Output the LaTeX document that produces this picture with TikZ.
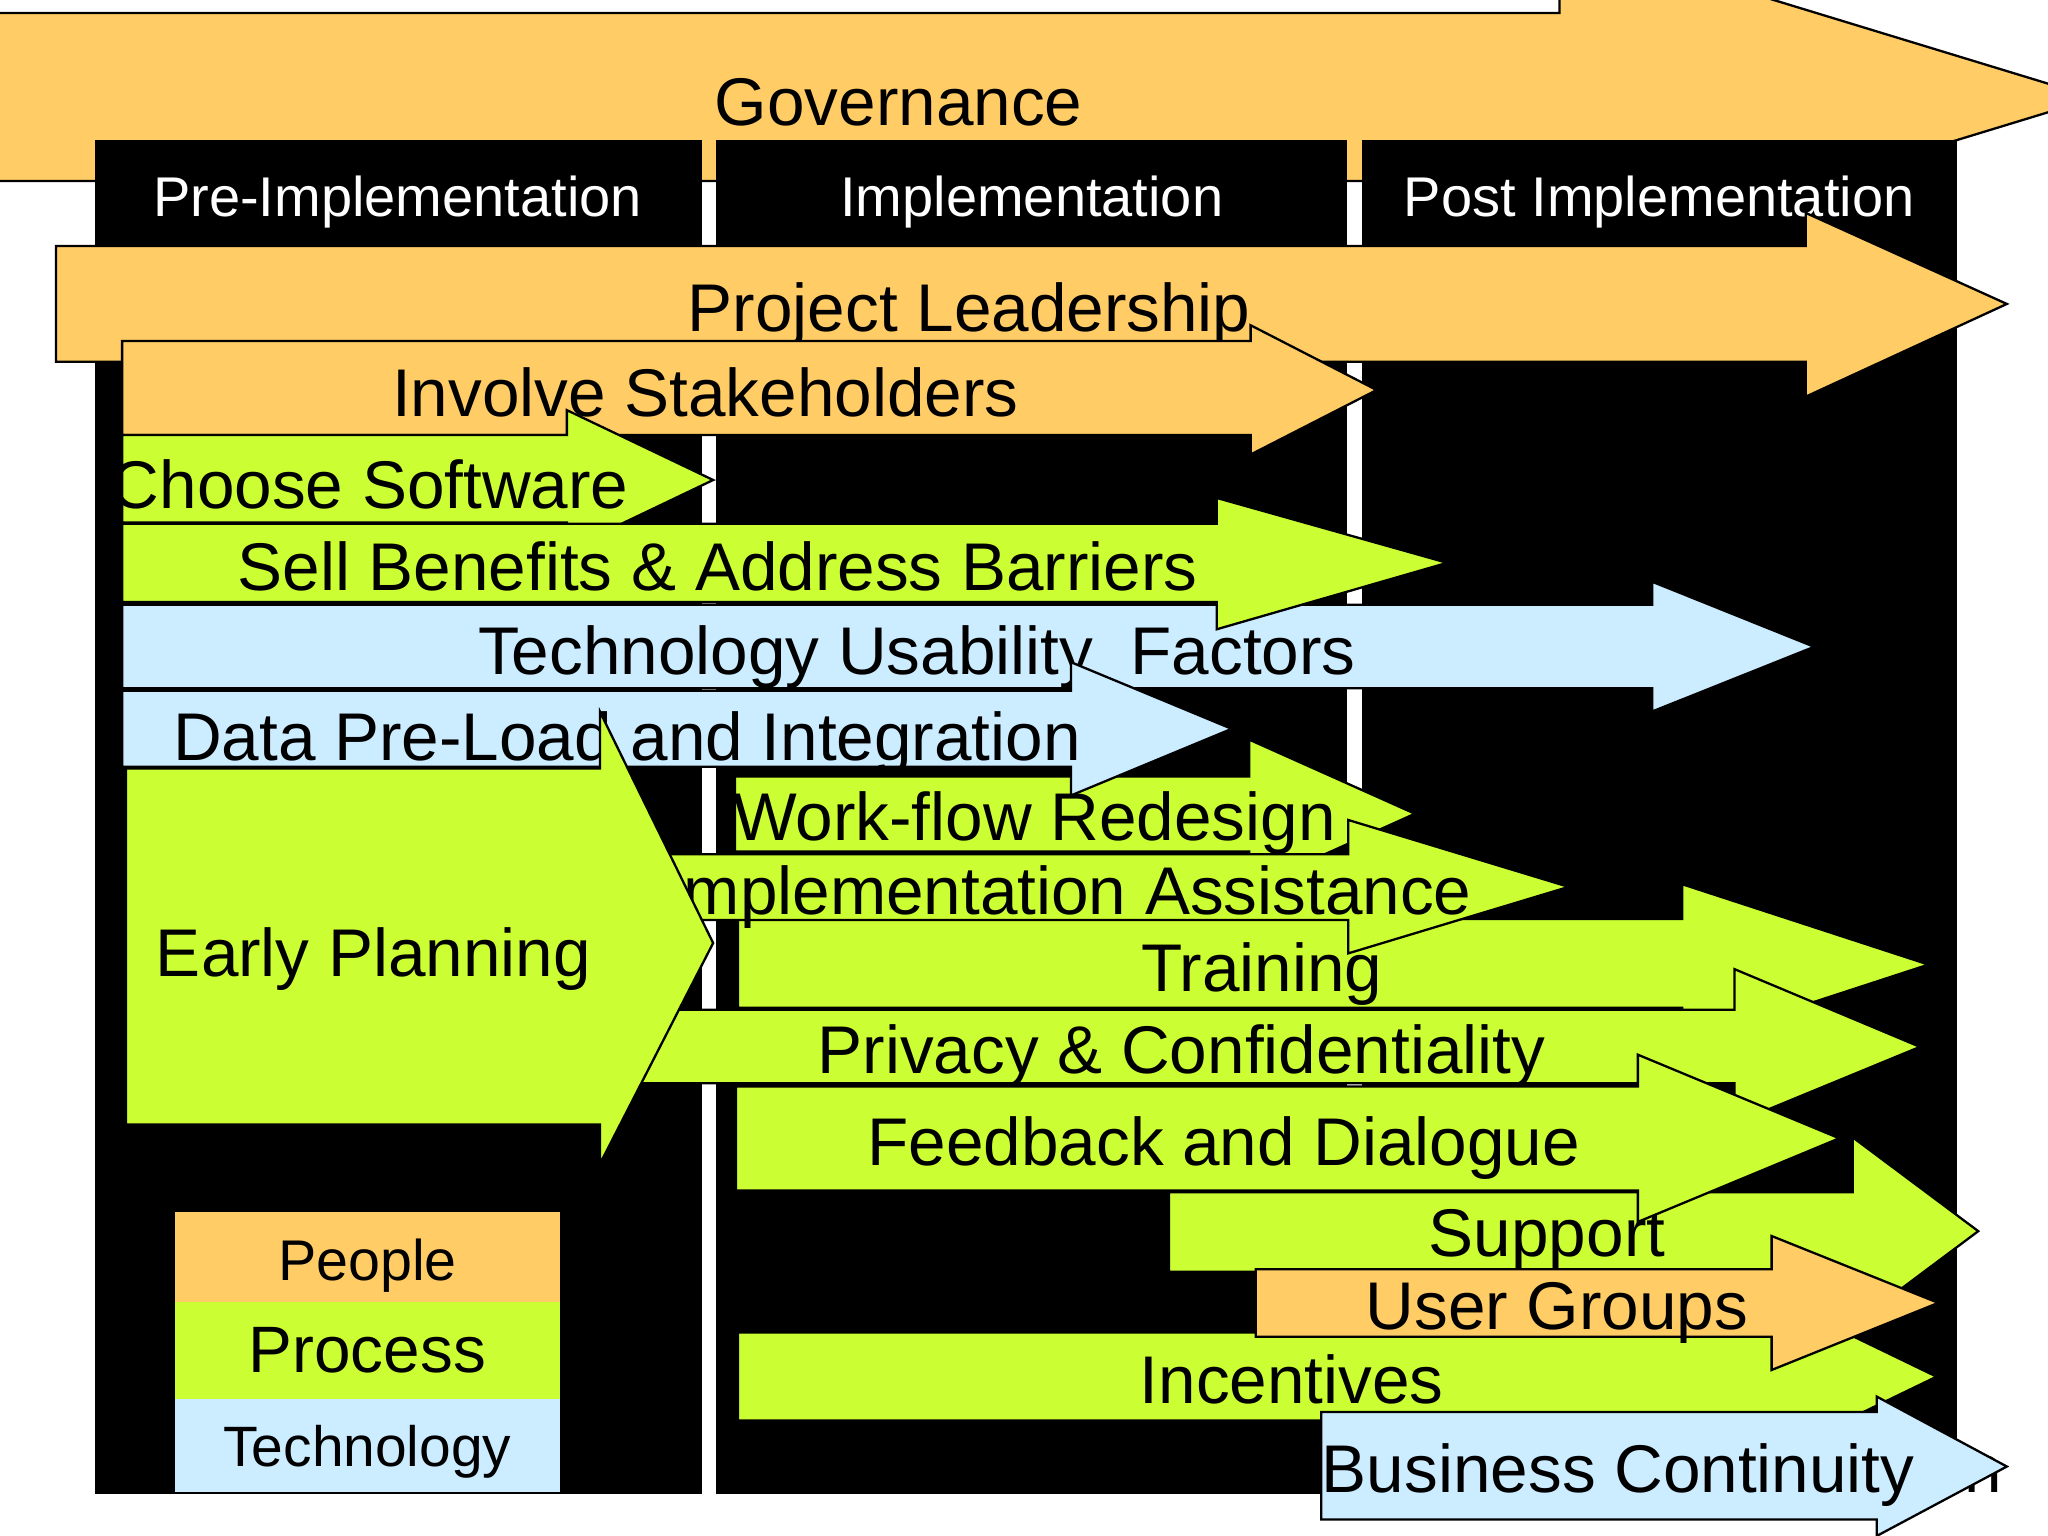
\documentclass[tikz,border=0pt]{standalone}
\usepackage{fontspec}
\setmainfont{Liberation Sans}
\definecolor{ppl}{RGB}{255,204,102}
\definecolor{prc}{RGB}{204,255,51}
\definecolor{tec}{RGB}{204,236,255}
\tikzset{
  arr/.style={draw=black, line width=0.5pt, line join=miter},
  lbl/.style={anchor=base, inner sep=0pt, font=\fontsize{14.7pt}{17pt}\selectfont},
  hdr/.style={anchor=base, inner sep=0pt, text=white, font=\fontsize{12.2pt}{14pt}\selectfont},
  colbox/.style={fill=black},
}
% style, left, top, bottom, headx, headtop, headbot, tipx, tipy
\newcommand{\harrow}[9]{\path[arr,#1] (#2,#3) -- (#5,#3) -- (#5,#6) -- (#8,#9) -- (#5,#7) -- (#5,#4) -- (#2,#4) -- cycle;}

\begin{document}
\begin{tikzpicture}[x=0.1mm,y=-0.1mm]
\useasboundingbox (0,0) rectangle (1568,1176);
\clip (0,0) rectangle (1568,1176);
\fill[white] (0,0) rectangle (1568,1176);

% Governance
\harrow{fill=ppl}{-20}{10}{138.6}{1194}{-50}{200}{1604}{75}
\node[lbl] (gov) at (688,95.7) {Governance};

% phase columns
\fill[colbox] (72.7,107.2) rectangle (537.5,1144);
\fill[colbox] (548.5,107.2) rectangle (1031.5,1144);
\fill[colbox] (1043,107.2) rectangle (1498.5,1144);
\node[hdr] (pre) at (304.3,165.9) {Pre-Implementation};
\node[hdr] (impl) at (790,165.9) {Implementation};
\node[hdr] (post) at (1270.3,165.9) {Post Implementation};

% Project Leadership
\harrow{fill=ppl}{42.9}{188.3}{277}{1382.5}{163}{303.7}{1536.5}{232.7}
\node[lbl] (pl) at (742,253.9) {Project Leadership};

% Involve Stakeholders
\harrow{fill=ppl}{93.5}{261}{333}{957.5}{249}{348}{1054}{298.6}
\node[lbl] (inv) at (540,319) {Involve Stakeholders};

% Choose Software
\harrow{fill=prc}{93.5}{333}{400}{434}{314}{421}{546}{367.5}
\begin{scope}
  \clip (93.5,300) rectangle (600,420);
  \node[lbl] (choose) at (283,389) {Choose Software};
\end{scope}

% Technology Usability Factors
\harrow{fill=tec}{93.5}{463}{527}{1265}{445.4}{544.7}{1389}{495.2}
\node[lbl] (tuf) at (702,516.5) {Technology Usability\ \ Factors};

% Sell Benefits
\harrow{fill=prc}{93.5}{401}{461}{931.5}{381.2}{481.8}{1108}{430.9}
\node[lbl] (sell) at (549.5,452.3) {Sell Benefits \& Address Barriers};

% Work-flow Redesign
\harrow{fill=prc}{562.7}{594.4}{652}{956.5}{566.3}{680}{1083.3}{623}
\begin{scope}
  \clip (562.7,560) rectangle (1100,690);
  \node[lbl] (wf) at (792,643.7) {Work-flow Redesign};
\end{scope}

% Data Pre-Load and Integration
\harrow{fill=tec}{93.5}{528.8}{587}{820}{507}{609}{943}{558}
\node[lbl] (data) at (480,582) {Data Pre-Load and Integration};

% Training
\harrow{fill=prc}{565}{703.5}{771.5}{1288}{677}{800}{1476.5}{738.5}
\node[lbl] (train) at (966,759) {Training};

% Implementation Assistance
\harrow{fill=prc}{480}{654}{704.3}{1032.3}{627.8}{729.9}{1201}{679}
\node[lbl] (ia) at (818,700) {Implementation Assistance};

% Privacy & Confidentiality
\harrow{fill=prc}{490}{773}{829.4}{1328}{742}{860}{1470}{801.5}
\node[lbl] (priv) at (904.5,822) {Privacy \& Confidentiality};

% Early Planning
\harrow{fill=prc}{96.5}{588.4}{861}{459.4}{545}{891}{546}{722}
\node[lbl] (early) at (286,747.5) {Early Planning};

% Support
\harrow{fill=prc}{895}{912.7}{973.7}{1418.4}{870.7}{1014.5}{1514.6}{942.6}
\node[lbl] (sup) at (1184.5,962) {Support};

% Feedback and Dialogue
\harrow{fill=prc}{563.5}{831.8}{911.4}{1254}{807.5}{935.5}{1408.2}{871.5}
\node[lbl] (fb) at (937,892.5) {Feedback and Dialogue};

% Incentives
\harrow{fill=prc}{565}{1020.2}{1087.5}{1373}{1001}{1107}{1482.7}{1054}
\node[lbl] (inc) at (989,1074.4) {Incentives};

% User Groups
\harrow{fill=ppl}{961.5}{971.8}{1023.4}{1356.4}{946.3}{1048.9}{1484}{997.5}
\node[lbl] (ug) at (1192,1018) {User Groups};

% stray letter behind Business Continuity
\node[lbl, anchor=base west] (strayn) at (1503,1142.4) {n};

% Business Continuity
\harrow{fill=tec}{1011.5}{1081}{1163.4}{1436.8}{1069.2}{1176}{1536.5}{1122.8}
\begin{scope}
  \clip (1011.5,1060) rectangle (1568,1176);
  \node[lbl] (bc) at (1239,1142.4) {Business Continuity};
\end{scope}

% legend
\fill[ppl] (134,927.8) rectangle (428.5,996.9);
\fill[prc] (134,996.9) rectangle (428.5,1071.3);
\fill[tec] (134,1071.3) rectangle (428.5,1142.5);
\node[anchor=base, inner sep=0pt, font=\fontsize{12.5pt}{14pt}\selectfont] (lgp) at (281.3,980.2) {People};
\node[anchor=base, inner sep=0pt, font=\fontsize{14.3pt}{16pt}\selectfont] (lgr) at (281.3,1050.9) {Process};
\node[anchor=base, inner sep=0pt, font=\fontsize{12.4pt}{14pt}\selectfont] (lgt) at (281.3,1122.8) {Technology};
\end{tikzpicture}
\end{document}
